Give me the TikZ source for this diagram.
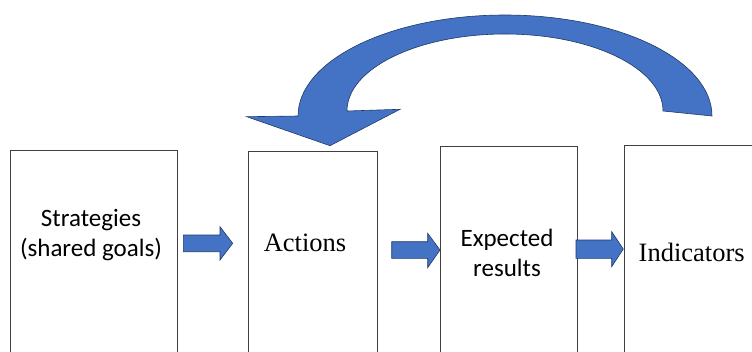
\documentclass[tikz,border=0pt]{standalone}
\usepackage{fontspec}
\setmainfont{Liberation Serif}
\newfontfamily\calibri{Carlito}
\definecolor{arrowblue}{HTML}{4472C4}
\definecolor{arrowedge}{HTML}{1F3A68}
\definecolor{boxedge}{HTML}{404040}
\begin{document}
\begin{tikzpicture}[x=1pt,y=-1pt,
  box/.style={draw=boxedge,line width=0.8pt,minimum width=#1,minimum height=230pt,anchor=north west,inner sep=0pt},
  sanslabel/.style={font=\calibri\fontsize{25}{30}\selectfont,align=center},
  seriflabel/.style={font=\fontsize{26.5}{30}\selectfont,anchor=base},
  blockarrow/.style={fill=arrowblue,draw=arrowedge,line width=0.6pt,line join=miter}]
\useasboundingbox (0,0) rectangle (752,351);
\clip (0,0) rectangle (752,351);

\node[box=167pt] (strategies) at (10,150) {};
\node[box=128.5pt] (actions) at (248,151) {};
\node[box=136.5pt] (results) at (440,146) {};
\node[box=150pt] (indicators) at (624,145) {};

\node[sanslabel] (strategiestext) at (91,235) {Strategies\\(shared goals)};
\node[seriflabel] (actionstext) at (305,251.7) {Actions};
\node[sanslabel] (resultstext) at (507,253) {Expected\\results};
\node[seriflabel] (indicatorstext) at (691.7,261.7) {Indicators};

% small arrows between the boxes
\draw[blockarrow] (183.3,235) -- (220,235) -- (220,226.7) -- (232.7,243.3) -- (220,260) -- (220,251.7) -- (183.3,251.7) -- cycle;
\draw[blockarrow] (391.7,241.7) -- (427.7,241.7) -- (427.7,233.3) -- (440,250) -- (427.7,267.7) -- (427.7,258.3) -- (391.7,258.3) -- cycle;
\draw[blockarrow] (576,240) -- (611.7,240) -- (611.7,231.7) -- (623.3,249) -- (611.7,266.7) -- (611.7,258.3) -- (576,258.3) -- cycle;

% curved arrow back to the actions
\draw[blockarrow] (712,116) arc[start angle=0,end angle=-180,x radius=207,y radius=101]
  -- (246.7,116.7) -- (330,145.7) -- (400,109.3) -- (347,111)
  arc[start angle=-180,end angle=0,x radius=158,y radius=77] -- cycle;
\end{tikzpicture}
\end{document}
